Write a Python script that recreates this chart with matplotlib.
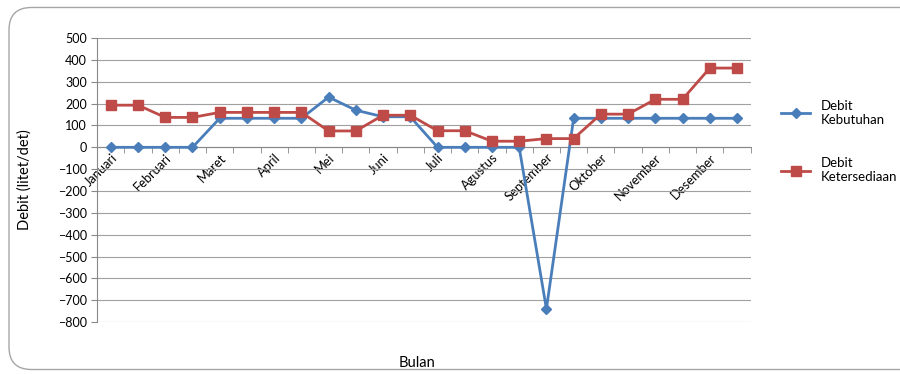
import matplotlib.pyplot as plt
import numpy as np
from matplotlib.patches import FancyBboxPatch
from matplotlib.ticker import FixedLocator
import matplotlib.transforms as mtransforms

plt.rcParams['font.family'] = ['Lato', 'DejaVu Sans']

# Data: two readings per month
months = ["Januari", "Februari", "Maret", "April", "Mei", "Juni", "Juli",
          "Agustus", "September", "Oktober", "November", "Desember"]
kebutuhan = [0, 0, 0, 0, 133, 133, 133, 133, 230, 170, 140, 140,
             0, 0, 0, 0, -740, 133, 133, 133, 133, 133, 133, 133]
ketersediaan = [193, 193, 137, 137, 160, 160, 160, 160, 75, 75, 147, 147,
                76, 76, 28, 28, 40, 40, 152, 152, 220, 220, 363, 363]

x = np.arange(len(kebutuhan))

fig = plt.figure(figsize=(9, 3.74), dpi=100)
ax = fig.add_axes([0.108, 0.139, 0.726, 0.759])

# Outer rounded frame like the Excel chart area (runs off the right edge)
frame = FancyBboxPatch((0.01, 0.012), 1.05, 0.968, boxstyle="round,pad=0,rounding_size=0.025",
                       transform=fig.transFigure, facecolor='none', edgecolor='#a6a6a6',
                       linewidth=1.0, mutation_aspect=2.4, clip_on=False)
fig.patches.append(frame)

ax.plot(x, kebutuhan, color='#4a7ebb', linewidth=2, marker='D', markersize=5,
        label='Debit\nKebutuhan', zorder=3)
ax.plot(x, ketersediaan, color='#be4b48', linewidth=2, marker='s', markersize=7,
        label='Debit\nKetersediaan', zorder=3)

ax.set_xlim(-0.5, len(x) - 0.5)
ax.set_ylim(-800, 500)
ax.set_yticks(np.arange(-800, 501, 100))
ax.grid(axis='y', color='#a0a0a0', linewidth=0.8)
ax.set_axisbelow(True)

for side in ['top', 'right']:
    ax.spines[side].set_visible(False)
ax.spines['left'].set_color('#888888')
ax.spines['bottom'].set_position(('data', 0))
ax.spines['bottom'].set_color('#888888')

# month labels on every other point, ticks between categories
ax.xaxis.set_major_locator(FixedLocator(x[::2]))
ax.set_xticklabels(months, rotation=45, ha='right', rotation_mode='anchor', fontsize=9.3)
shift = mtransforms.ScaledTranslation(6 / 100, 0, fig.dpi_scale_trans)
for lbl in ax.get_xticklabels():
    lbl.set_transform(lbl.get_transform() + shift)
ax.xaxis.set_minor_locator(FixedLocator(np.arange(-0.5, len(x), 1)))
ax.tick_params(axis='x', which='major', length=0, pad=3)
ax.tick_params(axis='x', which='minor', length=4, color='#888888')
ax.tick_params(axis='y', length=4, color='#888888', labelsize=9)

ax.set_xlabel('Bulan', fontsize=10.5)
ax.xaxis.set_label_coords(0.49, -0.12)
ax.set_ylabel('Debit (litet/det)', fontsize=10.5)
ax.yaxis.set_label_coords(-0.1, 0.5)

fig.legend(loc='upper left', bbox_to_anchor=(0.855, 0.765), frameon=False,
           labelspacing=2.4, handlelength=2.2, fontsize=9.5)

fig.savefig('out.png', dpi=100)
